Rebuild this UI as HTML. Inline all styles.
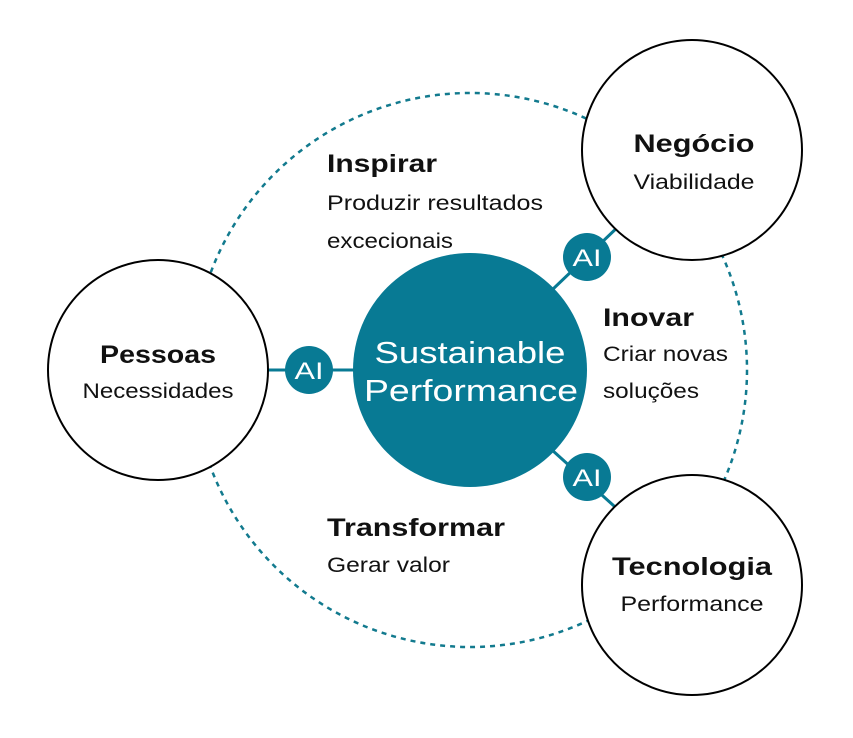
<!DOCTYPE html>
<html><head><meta charset="utf-8"><style>
html,body{margin:0;padding:0;background:#fff}
svg{display:block}
text{font-family:"Liberation Sans",sans-serif}
</style></head><body>
<svg width="853" height="738" viewBox="0 0 853 738" xmlns="http://www.w3.org/2000/svg">
<circle cx="470" cy="370" r="277" fill="none" stroke="#127a8e" stroke-width="2.5" stroke-dasharray="5 5"/>
<g stroke="#087a94" stroke-width="3">
<line x1="262" y1="370" x2="360" y2="370"/>
<line x1="552" y1="290" x2="622" y2="223"/>
<line x1="552" y1="450" x2="624" y2="515"/>
</g>
<circle cx="158" cy="370" r="110" fill="#fff" stroke="#000" stroke-width="2"/>
<circle cx="692" cy="150" r="110" fill="#fff" stroke="#000" stroke-width="2"/>
<circle cx="692" cy="585" r="110" fill="#fff" stroke="#000" stroke-width="2"/>
<circle cx="470" cy="370" r="117" fill="#087a94"/>
<circle cx="309" cy="370" r="24" fill="#087a94"/>
<circle cx="587" cy="257" r="24" fill="#087a94"/>
<circle cx="587" cy="477" r="24" fill="#087a94"/>
<g fill="#fff" font-size="24" text-anchor="middle">
<text x="309" y="379" textLength="29" lengthAdjust="spacingAndGlyphs">AI</text>
<text x="587" y="266" textLength="29" lengthAdjust="spacingAndGlyphs">AI</text>
<text x="587" y="486" textLength="29" lengthAdjust="spacingAndGlyphs">AI</text>
</g>
<g fill="#fff" font-size="31" text-anchor="middle">
<text x="470" y="363" textLength="191" lengthAdjust="spacingAndGlyphs">Sustainable</text>
<text x="471" y="401" textLength="214" lengthAdjust="spacingAndGlyphs">Performance</text>
</g>
<g fill="#111" text-anchor="middle">
<text x="158" y="363" font-size="25" font-weight="bold" textLength="116" lengthAdjust="spacingAndGlyphs">Pessoas</text>
<text x="158" y="398" font-size="21" textLength="151" lengthAdjust="spacingAndGlyphs">Necessidades</text>
<text x="694" y="152" font-size="25" font-weight="bold" textLength="121" lengthAdjust="spacingAndGlyphs">Negócio</text>
<text x="694" y="189" font-size="21" textLength="121" lengthAdjust="spacingAndGlyphs">Viabilidade</text>
<text x="692" y="575" font-size="25" font-weight="bold" textLength="160" lengthAdjust="spacingAndGlyphs">Tecnologia</text>
<text x="692" y="611" font-size="21" textLength="143" lengthAdjust="spacingAndGlyphs">Performance</text>
</g>
<g fill="#111">
<text x="327" y="172" font-size="25" font-weight="bold" textLength="110" lengthAdjust="spacingAndGlyphs">Inspirar</text>
<text x="327" y="210" font-size="21" textLength="216" lengthAdjust="spacingAndGlyphs">Produzir resultados</text>
<text x="327" y="248" font-size="21" textLength="126" lengthAdjust="spacingAndGlyphs">excecionais</text>
<text x="603" y="326" font-size="25" font-weight="bold" textLength="91" lengthAdjust="spacingAndGlyphs">Inovar</text>
<text x="603" y="361" font-size="21" textLength="125" lengthAdjust="spacingAndGlyphs">Criar novas</text>
<text x="603" y="398" font-size="21" textLength="96" lengthAdjust="spacingAndGlyphs">soluções</text>
<text x="327" y="536" font-size="25" font-weight="bold" textLength="178" lengthAdjust="spacingAndGlyphs">Transformar</text>
<text x="327" y="572" font-size="21" textLength="123" lengthAdjust="spacingAndGlyphs">Gerar valor</text>
</g>
</svg>
</body></html>
